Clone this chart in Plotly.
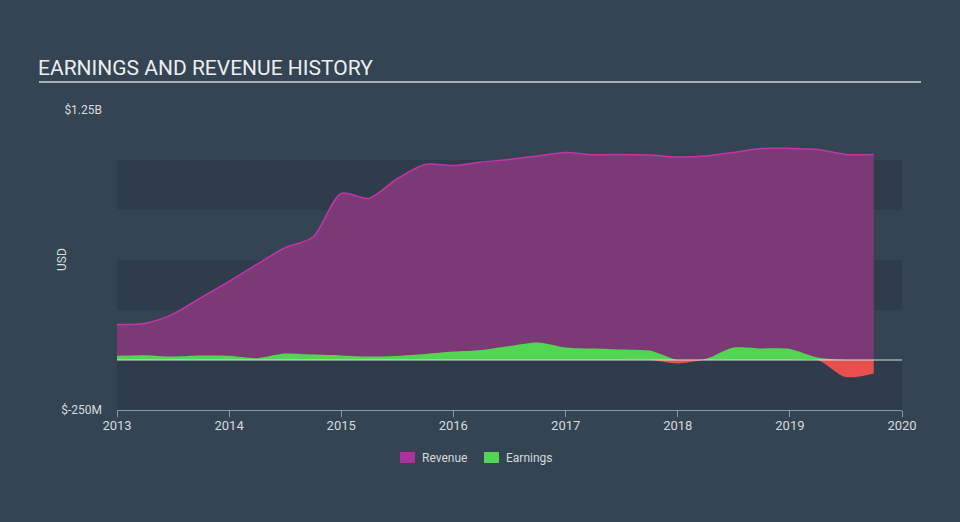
import plotly.graph_objects as go

# ---- data ----
quarters = [
    "2013-01-01", "2013-04-01", "2013-07-01", "2013-10-01",
    "2014-01-01", "2014-04-01", "2014-07-01", "2014-10-01",
    "2015-01-01", "2015-04-01", "2015-07-01", "2015-10-01",
    "2016-01-01", "2016-04-01", "2016-07-01", "2016-10-01",
    "2017-01-01", "2017-04-01", "2017-07-01", "2017-10-01",
    "2018-01-01", "2018-04-01", "2018-07-01", "2018-10-01",
    "2019-01-01", "2019-04-01", "2019-07-01", "2019-10-01",
]
revenue_m = [178, 183, 228, 312, 393, 478, 560, 615,
             833, 808, 905, 978, 972, 990, 1003, 1020,
             1038, 1026, 1028, 1025, 1015, 1020, 1038, 1058,
             1058, 1053, 1028, 1028]
earnings_m = [21, 24, 17, 22, 21, 9, 32, 27,
              23, 17, 20, 30, 42, 50, 70, 88,
              63, 57, 52, 47, -17, 5, 62, 58,
              55, 12, -85, -67]
year_ticks = ["2013", "2014", "2015", "2016", "2017", "2018", "2019", "2020"]
y_tick_vals = [-250e6, 1.25e9]
y_tick_text = ["$-250M", "$1.25B"]
band_ranges = [(750e6, 1.0e9), (250e6, 500e6), (-250e6, 0)]
legend_names = ["Revenue", "Earnings"]

revenue = [v * 1e6 for v in revenue_m]
earn_pos = [max(v, 0) * 1e6 for v in earnings_m]
earn_neg = [min(v, 0) * 1e6 for v in earnings_m]

BG = "#344453"
BAND = "#2e3c4b"
PURPLE_FILL = "#7b3a76"
PURPLE_LINE = "#c235a8"
GREEN = "#52d651"
RED = "#e8504f"
TXT = "#d6d9dd"

# plot area in pixels
L, R, T, B = 117, 902, 110, 410
PW, PH = R - L, B - T


def px(x):
    return (x - L) / PW


def py(y):
    return (B - y) / PH


fig = go.Figure()

fig.add_trace(go.Scatter(
    x=quarters, y=revenue, mode="lines", fill="tozeroy",
    line=dict(color=PURPLE_LINE, width=1.5, shape="spline", smoothing=0.8),
    fillcolor=PURPLE_FILL, showlegend=False, hoverinfo="skip"))
fig.add_trace(go.Scatter(
    x=quarters, y=earn_pos, mode="lines", fill="tozeroy",
    line=dict(color=GREEN, width=0, shape="spline", smoothing=0.8),
    fillcolor=GREEN, showlegend=False, hoverinfo="skip"))
fig.add_trace(go.Scatter(
    x=quarters, y=earn_neg, mode="lines", fill="tozeroy",
    line=dict(color=RED, width=0, shape="spline", smoothing=0.8),
    fillcolor=RED, showlegend=False, hoverinfo="skip"))

shapes = []
for y0, y1 in band_ranges:
    shapes.append(dict(type="rect", xref="paper", yref="y", x0=0, x1=1, y0=y0, y1=y1,
                       fillcolor=BAND, line=dict(width=0), layer="below"))
shapes.append(dict(type="line", xref="paper", yref="y", x0=0, x1=1, y0=0, y1=0,
                   line=dict(color="#dcdcdc", width=1), layer="above"))
# title underline
shapes.append(dict(type="line", xref="paper", yref="paper",
                   x0=px(39), x1=px(921), y0=py(82), y1=py(82),
                   line=dict(color="#a9b0b8", width=2)))

# manual legend
annotations = []
legend_colors = ["#a8349c", GREEN]
legend_x = [400, 484]
for name, col, lx in zip(legend_names, legend_colors, legend_x):
    shapes.append(dict(type="rect", xref="paper", yref="paper",
                       x0=px(lx), x1=px(lx + 15), y0=py(452), y1=py(463),
                       fillcolor=col, line=dict(width=0)))
    annotations.append(dict(text=name, xref="paper", yref="paper",
                            x=px(lx + 20), y=py(458), xanchor="left", yanchor="middle",
                            showarrow=False, font=dict(size=12, color=TXT)))

annotations.append(dict(text="USD", xref="paper", yref="paper", x=px(62), y=py(260),
                        xanchor="center", yanchor="middle", textangle=-90,
                        showarrow=False, font=dict(size=12, color=TXT)))

fig.update_layout(
    width=960, height=522,
    margin=dict(l=L, r=960 - R, t=T, b=522 - B),
    paper_bgcolor=BG, plot_bgcolor=BG,
    font=dict(family="Roboto, sans-serif", color=TXT, size=12),
    title=dict(text="EARNINGS AND REVENUE HISTORY", xref="container", yref="container",
               x=38 / 960, xanchor="left", y=1 - 68 / 522, yanchor="middle",
               font=dict(size=21, color="#eceef0", family="Roboto, sans-serif")),
    shapes=shapes,
    annotations=annotations,
    showlegend=False,
    hovermode=False,
)
fig.update_xaxes(
    type="date", range=["2013-01-01", "2020-01-01"],
    tickvals=[f"{y}-01-01" for y in year_ticks], ticktext=year_ticks,
    showgrid=False, zeroline=False, showline=True, linecolor="#8a97a6", linewidth=1,
    ticks="outside", ticklen=6, tickcolor="#8a97a6", ticklabelstandoff=-3,
    tickfont=dict(size=13, color=TXT), fixedrange=True,
)
fig.update_yaxes(
    range=[-250e6, 1.25e9], tickvals=y_tick_vals, ticktext=y_tick_text,
    showgrid=False, zeroline=False, showline=False, ticks="",
    tickfont=dict(size=12, color=TXT), ticklabelstandoff=14,
    fixedrange=True,
)

fig.write_html("out.html", post_script="document.body.style.margin='0';",
               config={"displayModeBar": False})
